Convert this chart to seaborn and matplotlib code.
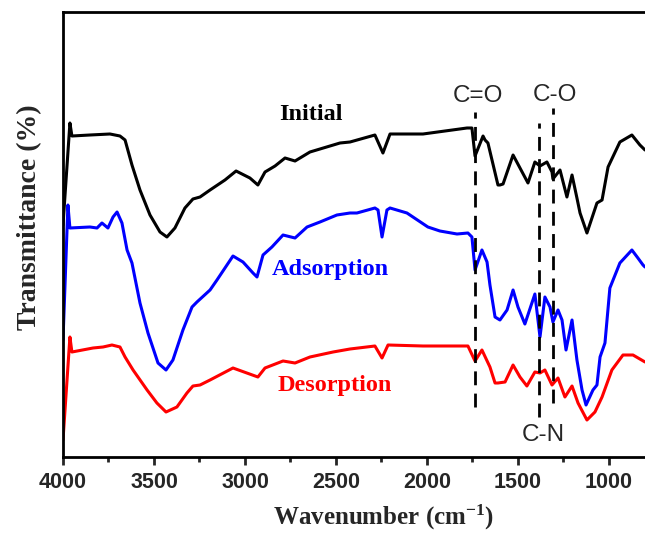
import numpy as np
import pandas as pd
import seaborn as sns
import matplotlib
matplotlib.use("Agg")
import matplotlib.pyplot as plt
from matplotlib.ticker import MultipleLocator, NullLocator

# FTIR spectra (wavenumber in cm-1, transmittance in arbitrary units)
initial_wn = [4000, 3962, 3951, 3852, 3742, 3687, 3659, 3621, 3577, 3522, 3467, 3429, 3385,
              3330, 3286, 3247, 3192, 3110, 3049, 2973, 2929, 2890, 2835, 2780, 2725, 2643,
              2588, 2478, 2423, 2286, 2242, 2203, 2022, 1780, 1753, 1736, 1692, 1681, 1665,
              1610, 1599, 1582, 1527, 1445, 1407, 1379, 1341, 1313, 1308, 1269, 1231, 1203,
              1176, 1159, 1121, 1066, 1038, 1005, 940, 874, 830, 802]
initial_t = [232, 334, 321, 322, 323, 321, 317, 292, 267, 242, 225, 220, 229,
             249, 258, 260, 267, 277, 286, 279, 272, 285, 291, 299, 296, 305,
             308, 314, 315, 322, 304, 323, 323, 329, 329, 301, 321, 317, 314,
             272, 272, 273, 302, 274, 295, 291, 295, 285, 278, 287, 260, 282,
             259, 244, 224, 254, 257, 290, 315, 322, 312, 307]

adsorption_wn = [4000, 3973, 3962, 3852, 3813, 3786, 3753, 3725, 3703, 3676, 3648, 3621, 3577,
                 3533, 3478, 3434, 3396, 3341, 3291, 3264, 3192, 3154, 3066, 3011, 2956, 2934,
                 2901, 2852, 2791, 2725, 2659, 2588, 2495, 2423, 2385, 2286, 2269, 2247, 2220,
                 2203, 2110, 1995, 1929, 1835, 1775, 1753, 1736, 1698, 1670, 1654, 1626, 1599,
                 1560, 1527, 1500, 1462, 1407, 1379, 1352, 1324, 1308, 1280, 1258, 1236, 1203,
                 1176, 1148, 1126, 1088, 1066, 1049, 1022, 995, 940, 874, 841, 813, 802]
adsorption_t = [117, 252, 229, 230, 229, 234, 229, 240, 245, 234, 207, 194, 154,
                124, 94, 87, 97, 127, 150, 155, 167, 177, 201, 195, 184, 180,
                202, 210, 222, 219, 230, 235, 242, 244, 244, 249, 247, 220, 247,
                249, 244, 230, 226, 223, 224, 220, 187, 207, 195, 172, 140, 137,
                147, 167, 150, 133, 163, 120, 160, 150, 135, 147, 137, 107, 137,
                97, 67, 52, 67, 72, 100, 114, 169, 194, 207, 199, 192, 190]

desorption_wn = [4000, 3962, 3951, 3835, 3780, 3731, 3687, 3659, 3615, 3538, 3484, 3434, 3374,
                 3319, 3286, 3247, 3192, 3066, 2929, 2890, 2791, 2725, 2643, 2516, 2423, 2286,
                 2247, 2214, 2022, 1775, 1736, 1698, 1654, 1626, 1610, 1571, 1527, 1489, 1451,
                 1407, 1379, 1352, 1313, 1280, 1242, 1203, 1170, 1121, 1077, 1038, 984, 923,
                 868, 802]
desorption_t = [17, 120, 105, 109, 110, 112, 110, 100, 87, 67, 54, 45, 50,
                64, 71, 72, 77, 89, 80, 89, 96, 94, 100, 105, 108, 111,
                99, 112, 111, 111, 96, 107, 90, 74, 74, 75, 92, 80, 71,
                85, 84, 87, 72, 79, 60, 71, 54, 37, 45, 60, 87, 102,
                102, 95]

# marker bands: label, wavenumber, line bottom/top
band_labels = ["C=O", "C-N", "C-O"]
band_wn = [1736, 1383, 1309]
band_low = [50, 40, 54]
band_high = [345, 334, 349]

sns.set_style("ticks")
plt.rcParams["mathtext.fontset"] = "custom"
plt.rcParams["mathtext.rm"] = "Liberation Serif:bold"
plt.rcParams["mathtext.default"] = "rm"

fig = plt.figure(figsize=(6.45, 5.35), dpi=100)
ax = fig.add_axes([63 / 645, 1 - 457 / 535, 582 / 645, 445 / 535])

series = [("Initial", initial_wn, initial_t, "black"),
          ("Adsorption", adsorption_wn, adsorption_t, "#0000ff"),
          ("Desorption", desorption_wn, desorption_t, "#ff0000")]
for name, wn, t, col in series:
    d = pd.DataFrame({"wn": wn, "t": t})
    sns.lineplot(data=d, x="wn", y="t", ax=ax, color=col, lw=2.2,
                 sort=False, estimator=None, solid_joinstyle="round")

for lab, wn, lo, hi in zip(band_labels, band_wn, band_low, band_high):
    ax.plot([wn, wn], [lo, hi], color="black", lw=2.0, ls=(0, (5, 3)))

# curve names
serif = dict(family="Liberation Serif", weight="bold", fontsize=17.5)
ax.text(2637, 343, "Initial", color="black", ha="center", va="center", **serif)
ax.text(2533, 188, "Adsorption", color="#0000ff", ha="center", va="center", **serif)
ax.text(2505, 72, "Desorption", color="#ff0000", ha="center", va="center", **serif)

# band names
sans = dict(family="Liberation Sans", fontsize=17.5)
ax.text(1720, 361, "C=O", ha="center", va="center", **sans)
ax.text(1297, 362, "C-O", ha="center", va="center", **sans)
ax.text(1363, 22, "C-N", ha="center", va="center", **sans)

ax.set_xlim(4000, 802)
ax.set_ylim(0, 445)

ax.xaxis.set_major_locator(MultipleLocator(500))
ax.xaxis.set_minor_locator(MultipleLocator(250))
ax.yaxis.set_major_locator(NullLocator())
ax.tick_params(axis="x", which="major", direction="out", length=6, width=2, pad=5)
ax.tick_params(axis="x", which="minor", direction="out", length=3.5, width=2)
for lbl in ax.get_xticklabels():
    lbl.set_family("Liberation Sans")
    lbl.set_weight("bold")
    lbl.set_fontsize(15.5)

for side in ["left", "bottom", "top"]:
    ax.spines[side].set_linewidth(2.0)
    ax.spines[side].set_color("black")
ax.spines["right"].set_visible(False)

ax.set_xlabel(r"Wavenumber (cm$^{-1}$)", family="Liberation Serif", weight="bold", fontsize=18)
ax.set_ylabel("Transmittance (%)", family="Liberation Serif", weight="bold", fontsize=20)
ax.xaxis.set_label_coords(0.5515, -0.104)
ax.yaxis.set_label_coords(-0.036, 0.539)

fig.savefig("out.png", dpi=100, facecolor="white")
